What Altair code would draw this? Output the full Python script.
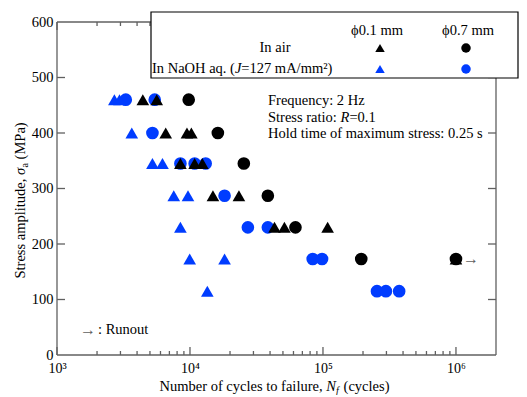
import altair as alt
import pandas as pd

# ---------------- data ----------------
air01_n = [4420, 5620, 6570, 9490, 10240, 8470, 10840, 12390, 14880, 23330, 43200, 51300, 108400, 1000000]
air01_s = [460, 460, 400, 400, 400, 345, 345, 345, 287, 287, 230, 230, 230, 173]
air07_n = [9780, 16200, 25400, 38500, 62100, 194000, 1000000]
air07_s = [460, 400, 345, 287, 230, 173, 173]
naoh01_n = [2700, 2950, 3650, 5220, 6210, 7550, 9660, 8470, 9950, 18200, 13500]
naoh01_s = [460, 460, 400, 345, 345, 287, 287, 230, 173, 173, 115]
naoh07_n = [3290, 5430, 5220, 8470, 10840, 13120, 18200, 27240, 38500, 83700, 98400, 254700, 297300, 374000]
naoh07_s = [460, 460, 400, 345, 345, 345, 287, 230, 230, 173, 173, 115, 115, 115]
runout_n = [1000000]
runout_s = [173]

x_major = [1000, 10000, 100000, 1000000]
x_labels = ["10³", "10⁴", "10⁵", "10⁶"]
x_minor = [2000, 3000, 4000, 5000, 6000, 7000, 8000, 9000,
           20000, 30000, 40000, 50000, 60000, 70000, 80000, 90000,
           200000, 300000, 400000, 500000, 600000, 700000, 800000, 900000]
y_major = [0, 100, 200, 300, 400, 500, 600]
y_inner = [100, 200, 300, 400, 500]

# ---------------- styling ----------------
W, H = 439, 333
FONT = "Liberation Serif"
FS = 14.5
BLUE = "#003cff"
FRAME = "#606060"

label_expr = " : ".join(
    [f"datum.value == {v} ? '{l}'" for v, l in zip(x_major[:-1], x_labels[:-1])]
) + f" : '{x_labels[-1]}'"

xscale = alt.Scale(type="log", domain=[1000, 2000000], nice=False)
yscale = alt.Scale(domain=[0, 600], nice=False)
xaxis = alt.Axis(values=x_major, labelExpr=label_expr, title=None, domain=False, ticks=False,
                 grid=False, labelFont=FONT, labelFontSize=14, labelColor="black",
                 labelPadding=6, labelFlush=False)
yaxis = alt.Axis(values=y_major, title=None, domain=False, ticks=False, grid=False,
                 labelFont=FONT, labelFontSize=FS, labelColor="black", labelPadding=4,
                 labelFlush=False)


def X():
    return alt.X("n:Q", scale=xscale, axis=xaxis)


def Y():
    return alt.Y("s:Q", scale=yscale, axis=yaxis)


one = pd.DataFrame({"k": [0]})


def txt(s, x, y, size=FS, italic=False, align="left", baseline="middle", angle=None, color="black"):
    kw = dict(align=align, baseline=baseline, font=FONT, fontSize=size, color=color)
    if italic:
        kw["fontStyle"] = "italic"
    if angle is not None:
        kw["angle"] = angle
    return alt.Chart(one).mark_text(**kw).encode(x=alt.value(x), y=alt.value(y), text=alt.value(s))


def hrule(x1, x2, y, color=FRAME, w=1.3):
    return alt.Chart(one).mark_rule(color=color, strokeWidth=w).encode(
        x=alt.value(x1), x2=alt.value(x2), y=alt.value(y))


def vrule(x, y1, y2, color=FRAME, w=1.3):
    return alt.Chart(one).mark_rule(color=color, strokeWidth=w).encode(
        x=alt.value(x), y=alt.value(y1), y2=alt.value(y2))


# frame
frame = [hrule(0, W, 0), hrule(0, W, H), vrule(0, 0, H), vrule(W, 0, H)]

# ticks (inward)
xmaj_df = pd.DataFrame({"n": x_major})
xmin_df = pd.DataFrame({"n": x_minor})
ytk_df = pd.DataFrame({"s": y_inner})
tick_layers = [
    alt.Chart(xmaj_df).mark_rule(color=FRAME, strokeWidth=1.3).encode(x=X(), y=alt.value(H), y2=alt.value(H - 8)),
    alt.Chart(xmaj_df).mark_rule(color=FRAME, strokeWidth=1.3).encode(x=X(), y=alt.value(0), y2=alt.value(8)),
    alt.Chart(xmin_df).mark_rule(color=FRAME, strokeWidth=1.3).encode(x=X(), y=alt.value(H), y2=alt.value(H - 4)),
    alt.Chart(xmin_df).mark_rule(color=FRAME, strokeWidth=1.3).encode(x=X(), y=alt.value(0), y2=alt.value(4)),
    alt.Chart(ytk_df).mark_rule(color=FRAME, strokeWidth=1.3).encode(y=Y(), x=alt.value(0), x2=alt.value(8)),
    alt.Chart(ytk_df).mark_rule(color=FRAME, strokeWidth=1.3).encode(y=Y(), x=alt.value(W), x2=alt.value(W - 8)),
]


def pts(ns, ss, shape, color, size=160):
    df = pd.DataFrame({"n": ns, "s": ss})
    return alt.Chart(df).mark_point(shape=shape, filled=True, color=color, opacity=1,
                                    size=size, strokeWidth=0).encode(x=X(), y=Y())


data_layers = [
    pts(naoh07_n, naoh07_s, "circle", BLUE),
    pts(naoh01_n, naoh01_s, "triangle-up", BLUE),
    pts(air07_n, air07_s, "circle", "black"),
    pts(air01_n, air01_s, "triangle-up", "black"),
]

runout = alt.Chart(pd.DataFrame({"n": runout_n, "s": runout_s})).mark_text(
    text="→", font=FONT, fontSize=16, color=FRAME, align="left", baseline="middle", dx=7
).encode(x=X(), y=Y())

# annotations
ann = [
    txt("Frequency: 2 Hz", 211, 79),
    txt("Stress ratio: ", 211, 96),
    txt("R", 283.5, 96, italic=True),
    txt("=0.1", 292.4, 96),
    txt("Hold time of maximum stress: 0.25 s", 211, 112),
    txt("→", 23, 308, color=FRAME, size=16),
    txt(": Runout", 41, 308),
]

# axis titles (multi-part for italics / subscripts)
titles = [
    txt("Number of cycles to failure, ", 102.5, 369, baseline="alphabetic"),
    txt("N", 269.2, 369, italic=True, baseline="alphabetic"),
    txt("f", 279.0, 372, italic=True, size=10, baseline="alphabetic"),
    txt("(cycles)", 286.6, 369, baseline="alphabetic"),
    txt("Stress amplitude, ", -32, 256.5, baseline="alphabetic", angle=270),
    txt("σ", -32, 153, italic=True, baseline="alphabetic", angle=270),
    txt("a", -29, 145.5, size=10, baseline="alphabetic", angle=270),
    txt("(MPa)", -32, 137.4, baseline="alphabetic", angle=270),
]

# legend box
box = alt.Chart(one).mark_rect(fill="white", stroke="black", strokeWidth=1.2).encode(
    x=alt.value(94), x2=alt.value(461), y=alt.value(-10), y2=alt.value(56))


def lsym(x, y, shape, color):
    return alt.Chart(one).mark_point(shape=shape, filled=True, color=color, opacity=1,
                                     size=90, strokeWidth=0).encode(x=alt.value(x), y=alt.value(y))


legend = [
    box,
    txt("ϕ0.1 mm", 320, 9, align="center"),
    txt("ϕ0.7 mm", 411, 9, align="center"),
    txt("In air", 218, 26, align="center"),
    lsym(323, 26, "triangle-up", "black"),
    lsym(409, 26, "circle", "black"),
    txt("In NaOH aq. (", 95, 47),
    txt("J", 177.9, 47, italic=True),
    txt("=127 mA/mm²)", 184.3, 47),
    lsym(323, 47, "triangle-up", BLUE),
    lsym(409, 47, "circle", BLUE),
]

chart = alt.layer(*frame, *tick_layers, *data_layers, runout, *ann, *titles, *legend).properties(
    width=W, height=H,
    autosize=alt.AutoSizeParams(type="none"),
    padding={"left": 49, "top": 14, "right": 23, "bottom": 40},
).configure_view(stroke=None).configure_axis(labelFont=FONT)

chart.save("out.html", embed_options={"renderer": "svg", "actions": False})
